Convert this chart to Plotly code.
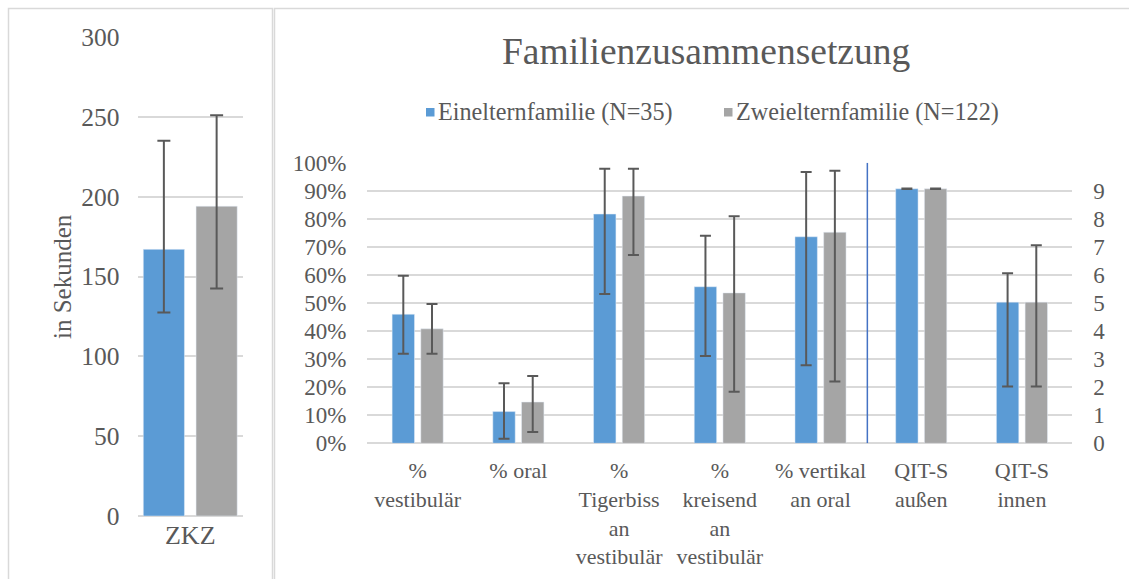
import plotly.graph_objects as go

# ---------------- data ----------------
zkz_category = ["ZKZ"]
zkz_blue = [167]
zkz_blue_hi = [235]
zkz_blue_lo = [127.5]
zkz_gray = [194]
zkz_gray_hi = [251]
zkz_gray_lo = [142.5]

pct_categories = ["%<br>vestibulär", "% oral", "%<br>Tigerbiss<br>an<br>vestibulär",
                  "%<br>kreisend<br>an<br>vestibulär", "% vertikal<br>an oral"]
pct_blue = [0.46, 0.113, 0.817, 0.558, 0.736]
pct_blue_hi = [0.597, 0.214, 0.978, 0.74, 0.967]
pct_blue_lo = [0.319, 0.016, 0.532, 0.311, 0.278]
pct_gray = [0.408, 0.147, 0.881, 0.536, 0.752]
pct_gray_hi = [0.496, 0.24, 0.978, 0.809, 0.971]
pct_gray_lo = [0.319, 0.04, 0.671, 0.184, 0.22]

qit_categories = ["QIT-S<br>außen", "QIT-S<br>innen"]
qit_blue = [9.07, 5.03]
qit_blue_hi = [9.08, 6.06]
qit_blue_lo = [9.06, 2.02]
qit_gray = [9.07, 5.03]
qit_gray_hi = [9.08, 7.06]
qit_gray_lo = [9.06, 2.02]

right_ticks = [0, 1, 2, 3, 4, 5, 6, 7, 8, 9]

series_names = ["Einelternfamilie (N=35)", "Zweielternfamilie (N=122)"]
title_text = "Familienzusammensetzung"
left_axis_title = "in Sekunden"

BLUE = "#5B9BD5"
GRAY = "#A5A5A5"
TXT = "#595959"
GRID = "#D9D9D9"
ERR = "#595959"
FONT = "Liberation Serif, Times New Roman, serif"

W, H = 1129, 579


def px_x(p):
    return p / W


def px_y(p):
    return (H - p) / H


def err(vals, hi, lo, thick=2, width=5.5):
    return dict(type="data", symmetric=False,
                array=[h - v for v, h in zip(vals, hi)],
                arrayminus=[v - l for v, l in zip(vals, lo)],
                color=ERR, thickness=thick, width=width)


fig = go.Figure()

# left panel (ZKZ)
fig.add_trace(go.Bar(x=zkz_category, y=zkz_blue, marker_color=BLUE, name=series_names[0],
                     error_y=err(zkz_blue, zkz_blue_hi, zkz_blue_lo, width=6.5),
                     xaxis="x", yaxis="y", showlegend=False))
fig.add_trace(go.Bar(x=zkz_category, y=zkz_gray, marker_color=GRAY, name=series_names[1],
                     error_y=err(zkz_gray, zkz_gray_hi, zkz_gray_lo, width=6.5),
                     xaxis="x", yaxis="y", showlegend=False))

# right panel percent categories
fig.add_trace(go.Bar(x=pct_categories, y=pct_blue, marker_color=BLUE, name=series_names[0],
                     error_y=err(pct_blue, pct_blue_hi, pct_blue_lo),
                     xaxis="x2", yaxis="y2", showlegend=False))
fig.add_trace(go.Bar(x=pct_categories, y=pct_gray, marker_color=GRAY, name=series_names[1],
                     error_y=err(pct_gray, pct_gray_hi, pct_gray_lo),
                     xaxis="x2", yaxis="y2", showlegend=False))

# right panel QIT categories (secondary axis)
fig.add_trace(go.Bar(x=qit_categories, y=qit_blue, marker_color=BLUE, name=series_names[0],
                     error_y=err(qit_blue, qit_blue_hi, qit_blue_lo),
                     xaxis="x2", yaxis="y3", showlegend=False))
fig.add_trace(go.Bar(x=qit_categories, y=qit_gray, marker_color=GRAY, name=series_names[1],
                     error_y=err(qit_gray, qit_gray_hi, qit_gray_lo),
                     xaxis="x2", yaxis="y3", showlegend=False))

all_cats = pct_categories + qit_categories

# custom legend (square + text) placed like the original
legend_y = 112
legend_items = [(426, BLUE, series_names[0]), (724, GRAY, series_names[1])]
legend_shapes = []
legend_annots = []
for x0, col, name in legend_items:
    legend_shapes.append(dict(type="rect", xref="paper", yref="paper",
                              x0=px_x(x0), x1=px_x(x0 + 8.5),
                              y0=px_y(legend_y + 4.5), y1=px_y(legend_y - 4),
                              fillcolor=col, line=dict(width=0)))
    legend_annots.append(dict(text=name, xref="paper", yref="paper",
                              x=px_x(x0 + 10), y=px_y(legend_y), xanchor="left", yanchor="middle",
                              showarrow=False, font=dict(size=24.2, family=FONT, color=TXT)))

fig.update_layout(
    width=W, height=H,
    margin=dict(l=0, r=0, t=0, b=0, pad=0, autoexpand=False),
    paper_bgcolor="white", plot_bgcolor="white",
    font=dict(family=FONT, color=TXT),
    barmode="group", bargap=0.43, bargroupgap=0.22,
    showlegend=False,
    xaxis=dict(domain=[px_x(137.5), px_x(243)], anchor="y", type="category",
               range=[-0.285, 0.285], showline=False, showgrid=False, automargin=False,
               ticks="", ticklabelstandoff=1,
               tickfont=dict(size=26, family=FONT, color=TXT)),
    yaxis=dict(domain=[px_y(516), px_y(37)], anchor="x", range=[0, 300], dtick=50,
               showgrid=True, gridcolor=GRID, gridwidth=1.5, zeroline=True,
               zerolinecolor=GRID, zerolinewidth=1.5, automargin=False,
               ticks="", ticklabelstandoff=17,
               tickfont=dict(size=25.5, family=FONT, color=TXT)),
    xaxis2=dict(domain=[px_x(367.3), px_x(1072.3)], anchor="y2", type="category",
                categoryorder="array", categoryarray=all_cats,
                range=[-0.5, 6.5], showgrid=False, showline=False, automargin=False,
                ticks="", ticklabelstandoff=12,
                tickfont=dict(size=22, family=FONT, color=TXT)),
    yaxis2=dict(domain=[px_y(443.3), px_y(162.7)], anchor="x2", range=[0, 1], dtick=0.1,
                tickformat=".0%", showgrid=True, gridcolor=GRID, gridwidth=1.5,
                zeroline=True, zerolinecolor=GRID, zerolinewidth=1.5, automargin=False,
                ticks="", ticklabelstandoff=20,
                tickfont=dict(size=23, family=FONT, color=TXT)),
    yaxis3=dict(overlaying="y2", anchor="x2", side="right", range=[0, 10],
                tickvals=right_ticks, showgrid=False, zeroline=False, automargin=False,
                ticks="", ticklabelstandoff=20,
                tickfont=dict(size=23, family=FONT, color=TXT)),
    annotations=[
        dict(text=title_text, xref="paper", yref="paper", x=px_x(706), y=px_y(52),
             xanchor="center", yanchor="middle", showarrow=False,
             font=dict(size=37.5, family=FONT, color=TXT)),
        dict(text=left_axis_title, xref="paper", yref="paper", x=px_x(62), y=px_y(277),
             xanchor="center", yanchor="middle", showarrow=False, textangle=-90,
             font=dict(size=25, family=FONT, color=TXT)),
    ] + legend_annots,
    shapes=[
        dict(type="rect", xref="paper", yref="paper", x0=px_x(8.5), x1=px_x(272.5),
             y0=-0.2, y1=px_y(8.5), line=dict(color=GRID, width=1.5), layer="below"),
        dict(type="rect", xref="paper", yref="paper", x0=px_x(274.5), x1=1.2,
             y0=-0.2, y1=px_y(8.5), line=dict(color=GRID, width=1.5), layer="below"),
        dict(type="line", xref="x2", yref="y2", x0=4.465, x1=4.465, y0=0, y1=1,
             line=dict(color="#4472C4", width=1.5), layer="above"),
    ] + legend_shapes,
)

fig.write_html("out.html", config={"displayModeBar": False},
               post_script="document.body.style.margin='0';document.body.style.overflow='hidden';")
